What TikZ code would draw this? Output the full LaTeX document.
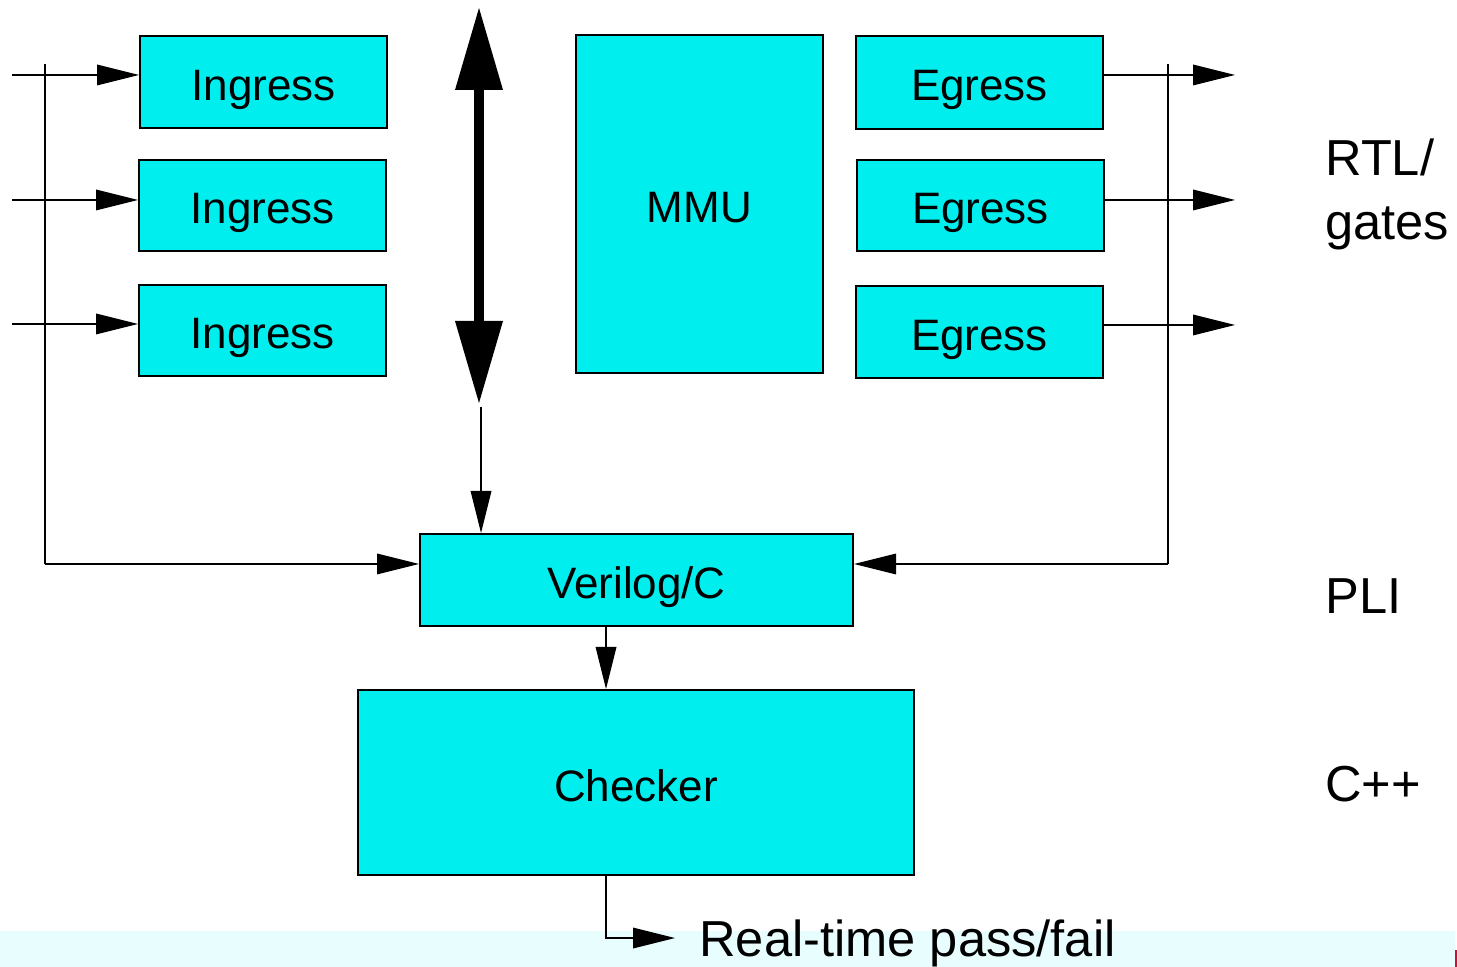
\documentclass[tikz,border=0pt]{standalone}
\usepackage{fontspec}
\setmainfont{Liberation Sans}
\usetikzlibrary{arrows.meta}

\definecolor{boxcyan}{RGB}{0,238,238}
\definecolor{bandcyan}{RGB}{232,254,254}
\definecolor{markred}{RGB}{200,16,60}

\newcommand{\boxfont}{\fontsize{22}{26}\selectfont}
\newcommand{\sidefont}{\fontsize{25.3}{32}\selectfont}

\begin{document}
\begin{tikzpicture}[
    x=0.5pt, y=-0.5pt,
    blk/.style={draw, line width=1pt, fill=boxcyan, inner sep=0pt, font=\boxfont,
                text height=18.5pt, text depth=0pt},
    wire/.style={line width=0.75pt},
    flow/.style={line width=0.75pt, -{Triangle[length=21pt,width=10.5pt,line width=0pt]}},
    bigarrow/.style={line width=5pt,
        {Triangle[length=41pt,width=24pt,line width=0pt]}-{Triangle[length=41pt,width=24pt,line width=0pt]}},
    side/.style={inner sep=0pt, font=\sidefont, align=left}
  ]
  \useasboundingbox (0,0) rectangle (1457,967);

  % pale band along the foot of the page
  \fill[bandcyan] (0,931) rectangle (1455,967);
  \fill[markred] (1455,950) rectangle (1457,967);

  % blocks
  \node[blk, minimum width=123.5pt, minimum height=46pt]   (ing1) at (263.5,82)   {Ingress};
  \node[blk, minimum width=123.5pt, minimum height=45.5pt] (ing2) at (262.5,205.5) {Ingress};
  \node[blk, minimum width=123.5pt, minimum height=45.5pt] (ing3) at (262.5,330.5) {Ingress};
  \node[blk, minimum width=123.5pt, minimum height=169pt]  (mmu)  at (699.5,204)  {MMU};
  \node[blk, minimum width=123.5pt, minimum height=46.5pt] (eg1)  at (979.5,82.5) {Egress};
  \node[blk, minimum width=123.5pt, minimum height=45.5pt] (eg2)  at (980.5,205.5) {Egress};
  \node[blk, minimum width=123.5pt, minimum height=46pt]   (eg3)  at (979.5,332)  {Egress};
  \node[blk, minimum width=216.5pt, minimum height=46pt]   (ver)  at (636.5,580)  {Verilog/C};
  \node[blk, minimum width=278pt,   minimum height=92.5pt] (chk)  at (636,782.5)  {Checker};

  % level labels
  \node[side, anchor=west]      (rtl) at (1325,194) {RTL/\\gates};
  \node[side, anchor=base west] (pli) at (1325,614) {PLI};
  \node[side, anchor=base west] (cpp) at (1325,801) {C++};
  \node[side, anchor=west, text depth=0pt, inner xsep=12pt] (out) at (675,938) {Real-time pass/fail};

  % input stimulus lines
  \coordinate (in1) at (12,75);
  \coordinate (in2) at (12,200);
  \coordinate (in3) at (12,324);
  \draw[flow] (in1) -- (in1 -| ing1.west);
  \draw[flow] (in2) -- (in2 -| ing2.west);
  \draw[flow] (in3) -- (in3 -| ing3.west);

  % output lines
  \coordinate (o1) at (1235,75);
  \coordinate (o2) at (1235,200);
  \coordinate (o3) at (1235,325);
  \draw[flow] (o1 -| eg1.east) -- (o1);
  \draw[flow] (o2 -| eg2.east) -- (o2);
  \draw[flow] (o3 -| eg3.east) -- (o3);

  % monitor taps into the Verilog/C layer
  \coordinate (lt) at (45,64);
  \coordinate (lb) at (45,564);
  \coordinate (rt) at (1168,64);
  \coordinate (rb) at (1168,564);
  \draw[wire] (lt) -- (lb);
  \draw[flow] (lb) -- (lb -| ver.west);
  \draw[wire] (rt) -- (rb);
  \draw[flow] (rb) -- (rb -| ver.east);

  % internal bus
  \coordinate (bt) at (479,8);
  \coordinate (bb) at (479,403);
  \draw[bigarrow] (bt) -- (bb);
  \coordinate (bs) at (481,407);
  \draw[flow] (bs) -- (bs |- ver.north);

  % Verilog/C to checker, checker to result
  \coordinate (vc) at (606,0);
  \draw[flow] (ver.south -| vc) -- (chk.north -| vc);
  \draw[flow] (chk.south -| vc) |- (out.west);
\end{tikzpicture}
\end{document}
